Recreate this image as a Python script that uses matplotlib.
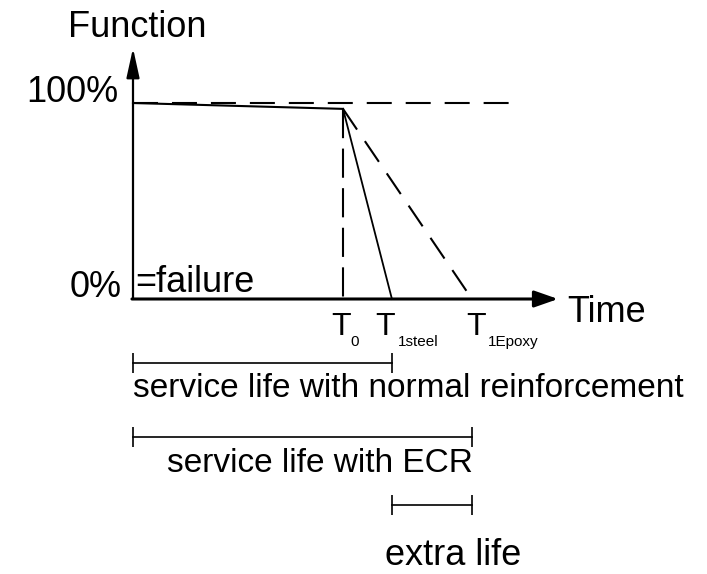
import matplotlib.pyplot as plt

plt.rcParams['font.family'] = ['Liberation Sans', 'DejaVu Sans']

# time axis (T0 = 10 units), function in %
t0 = 10.0
t_steel = 12.33
t_epoxy = 16.14
f_start = 100
f_at_t0 = 97
t_dash_end = 17.9
t_axis_end = 20.24
f_axis_end = 128

# service life spans: (start, end, y level)
span_starts = [0, 0, t_steel]
span_ends = [t_steel, t_epoxy, t_epoxy]
span_levels = [-32.7, -70.4, -105.0]

# T labels
t_names = ['0', '1steel', '1Epoxy']
t_label_x = [9.9, 12.02, 16.36]
t_sub_x = [10.33, 12.62, 16.9]

fig = plt.figure(figsize=(7.07, 5.74), dpi=100)
ax = fig.add_axes([0, 0, 1, 1])
ax.set_xlim(-133 / 21, (707 - 133) / 21)
ax.set_ylim(-(574 - 299) / 1.96, 299 / 1.96)
ax.axis('off')

# axes with arrows
ax.annotate('', xy=(t_axis_end, 0), xytext=(-0.05, 0),
            arrowprops=dict(arrowstyle='-|>,head_length=0.8,head_width=0.28',
                            lw=2.2, color='black', shrinkA=0, shrinkB=0,
                            mutation_scale=18))
ax.annotate('', xy=(0, f_axis_end), xytext=(0, 0),
            arrowprops=dict(arrowstyle='-|>,head_length=1.0,head_width=0.22',
                            lw=1.6, color='black', shrinkA=0, shrinkB=0,
                            mutation_scale=18))

# 100% reference line
ax.plot([0, t_dash_end], [f_start, f_start], color='black', lw=1.5,
        dashes=(12, 6.7))
# function until T0
ax.plot([0, t0], [f_start, f_at_t0], color='black', lw=1.5)
# T0 marker
ax.plot([t0, t0], [f_at_t0, 0], color='black', lw=1.5, dashes=(14, 5))
# steel and epoxy decline
ax.plot([t0, t_steel], [f_at_t0, 0], color='black', lw=1.3)
ax.plot([t0, t_epoxy], [f_at_t0, 0], color='black', lw=1.5, dashes=(12, 6.7))

# span bars
for a, b, y in zip(span_starts, span_ends, span_levels):
    ax.plot([a, b], [y, y], color='black', lw=1.2)
    ax.vlines([a, b], y - 5, y + 5, color='black', lw=1.2)

fs = 26
ax.text(-3.1, 133.7, 'Function', fontsize=fs, va='baseline', ha='left')
ax.text(-0.71, 100.5, '100%', fontsize=fs, va='baseline', ha='right')
ax.text(-0.52, 1, '0%', fontsize=fs, va='baseline', ha='right')
ax.text(0.1, 3.6, '=failure', fontsize=fs, va='baseline', ha='left')
ax.text(20.7, -11.7, 'Time', fontsize=fs, va='baseline', ha='left')

for name, x, xs in zip(t_names, t_label_x, t_sub_x):
    ax.text(x, -18.4, 'T', fontsize=23, va='baseline', ha='center')
    ax.text(xs, -24, name, fontsize=11, va='baseline', ha='left')

ax.text(0, -50, 'service life with normal reinforcement', fontsize=24,
        va='baseline', ha='left')
ax.text(16.19, -88.3, 'service life with ECR', fontsize=24,
        va='baseline', ha='right')
ax.text(12.0, -135.7, 'extra life', fontsize=26, va='baseline', ha='left')

fig.savefig('out.png', dpi=100, facecolor='white')
